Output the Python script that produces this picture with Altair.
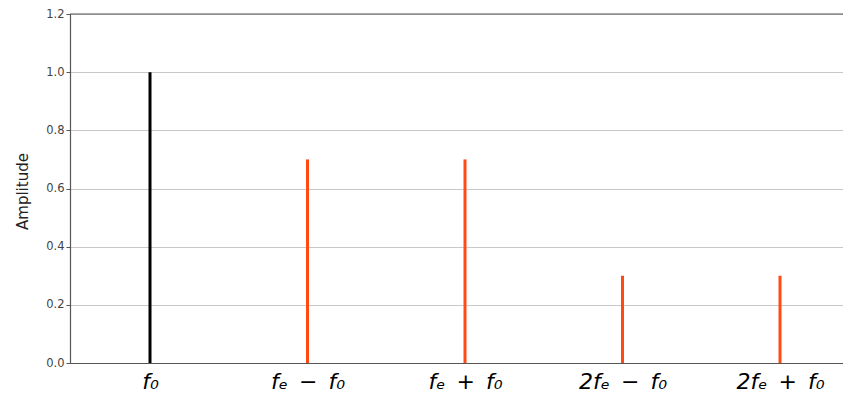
import json
import altair as alt
import pandas as pd

# data
positions = [0, 1, 2, 3, 4]
amplitudes = [1.0, 0.7, 0.7, 0.3, 0.3]
kinds = ["carrier", "side", "side", "side", "side"]
tick_labels = ["f₀", "fₑ\u2002−\u2002f₀", "fₑ\u2002+\u2002f₀", "2fₑ\u2002−\u2002f₀", "2fₑ\u2002+\u2002f₀"]
y_ticks = [0, 0.2, 0.4, 0.6, 0.8, 1.0, 1.2]

df = pd.DataFrame({"pos": positions, "amp": amplitudes, "kind": kinds})

label_expr = json.dumps(tick_labels, ensure_ascii=False) + "[datum.value]"

x_scale = alt.Scale(domain=[-0.508, 4.400], nice=False, zero=False)
y_scale = alt.Scale(domain=[0, 1.2], nice=False)

stems = alt.Chart(df).mark_rule(strokeWidth=3).encode(
    x=alt.X("pos:Q", scale=x_scale,
            axis=alt.Axis(values=positions, labelExpr=label_expr, title=None,
                          ticks=False, grid=False, labelFontSize=22,
                          labelFont="DejaVu Sans", labelFontStyle="italic",
                          labelColor="#000", labelPadding=8,
                          domainColor="#555", domainWidth=1.2,
                          labelFlush=False)),
    y=alt.Y("amp:Q", scale=y_scale,
            axis=alt.Axis(values=y_ticks, format=".1f",
                          title="Amplitude", titleFontSize=15, titleFont="DejaVu Sans",
                          titleFontWeight="normal", titleColor="#222", titlePadding=15,
                          titleY=177,
                          labelFontSize=11.5, labelFont="DejaVu Sans", labelColor="#444",
                          tickColor="#555", tickSize=4, domainColor="#555",
                          domainWidth=1.2, gridColor="#c8c8c8", gridWidth=1)),
    y2=alt.datum(0),
    color=alt.Color("kind:N", scale=alt.Scale(domain=["carrier", "side"],
                                              range=["#000000", "#ff4a14"]),
                    legend=None),
)

top = alt.Chart(pd.DataFrame({"v": [1.2]})).mark_rule(color="#555", strokeWidth=1.2).encode(
    y=alt.Y("v:Q", scale=y_scale),
)

chart = alt.layer(top, stems).properties(
    width=773, height=349,
    autosize=alt.AutoSizeParams(type="none"),
    padding={"left": 62, "top": 6, "right": 0, "bottom": 30},
).configure_view(stroke=None).configure(background="white")

chart.save("out.html", embed_options={"renderer": "svg", "actions": False})
